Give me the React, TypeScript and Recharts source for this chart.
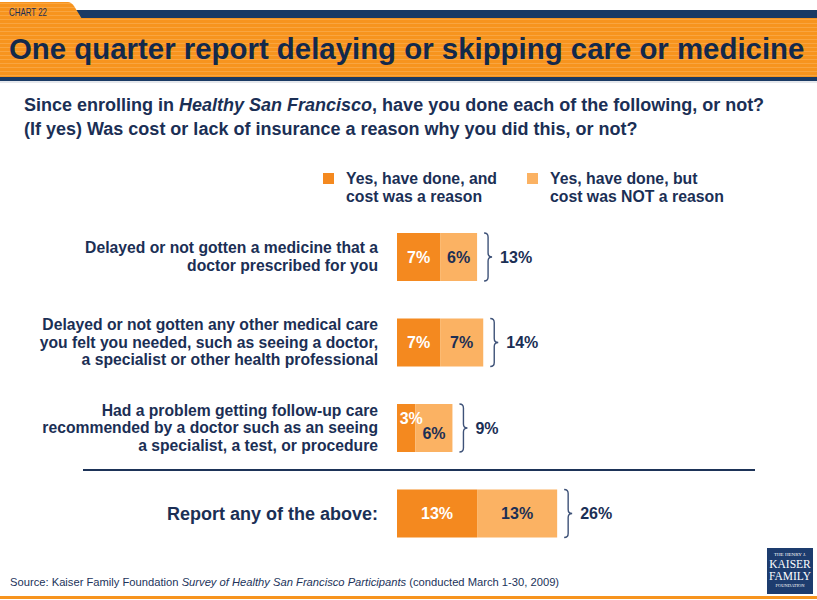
import { BarChart, Bar, XAxis, YAxis, LabelList } from 'recharts';

// survey rows, top to bottom
const categories = [
  'Delayed or not gotten a medicine that a\ndoctor prescribed for you',
  'Delayed or not gotten any other medical care\nyou felt you needed, such as seeing a doctor,\na specialist or other health professional',
  'Had a problem getting follow-up care\nrecommended by a doctor such as an seeing\na specialist, a test, or procedure',
  'Report any of the above:',
];
const costReason = [7, 7, 3, 13];
const notCostReason = [6, 7, 6, 13];
const totals = [13, 14, 9, 26];

const seriesNames = ['Yes, have done, and\ncost was a reason', 'Yes, have done, but\ncost was NOT a reason'];

const data = categories.map((name, i) => ({
  name,
  cost: costReason[i],
  notCost: notCostReason[i],
  total: totals[i],
}));

const NAVY = '#1B2F55';
const DARK_ORANGE = '#F4891F';
const LIGHT_ORANGE = '#FBB263';
const FONT = '"Liberation Sans", Arial, Helvetica, sans-serif';

const isSummary = (i: number) => i === categories.length - 1;

function CategoryTick(props: any) {
  const { x, y, payload, index } = props;
  const lines: string[] = String(payload.value).split('\n');
  const lh = 17.6;
  const big = isSummary(index);
  return (
    <text
      x={x - 19}
      y={y}
      textAnchor="end"
      fill={NAVY}
      fontFamily={FONT}
      fontWeight="bold"
      fontSize={big ? 18 : 15.7}
    >
      {lines.map((l, k) => (
        <tspan key={k} x={x - 19} dy={k === 0 ? -((lines.length - 1) / 2) * lh + (big ? 7 : 5.5) : lh}>
          {l}
        </tspan>
      ))}
    </text>
  );
}

function CostLabel(props: any) {
  const { x, y, width, height, value } = props;
  const small = value < 5;
  const cx = x + width / 2 + (small ? 5 : 0);
  const cy = y + height / 2 + (small ? -10 : 0);
  return (
    <text x={cx} y={cy} dy="0.36em" textAnchor="middle" fill="#FFFFFF" fontFamily={FONT} fontWeight="bold" fontSize={16}>
      {value}%
    </text>
  );
}

function NotCostLabel(props: any) {
  const { x, y, width, height, value, index } = props;
  const shift = costReason[index] < 5 ? 5 : 0;
  return (
    <text
      x={x + width / 2}
      y={y + height / 2 + shift}
      dy="0.36em"
      textAnchor="middle"
      fill={NAVY}
      fontFamily={FONT}
      fontWeight="bold"
      fontSize={16}
    >
      {value}%
    </text>
  );
}

function BraceLabel(props: any) {
  const { x, y, width, height, index } = props;
  const x0 = x + width + 7;
  const y0 = y;
  const y1 = y + height;
  const ym = y + height / 2;
  const d = `M${x0},${y0} Q${x0 + 4},${y0} ${x0 + 4},${y0 + 4} L${x0 + 4},${ym - 4} Q${x0 + 4},${ym} ${x0 + 8},${ym} Q${x0 + 4},${ym} ${x0 + 4},${ym + 4} L${x0 + 4},${y1 - 4} Q${x0 + 4},${y1} ${x0},${y1}`;
  return (
    <g>
      <path d={d} fill="none" stroke="#3E5278" strokeWidth={1.4} />
      <text x={x + width + 23} y={ym} dy="0.36em" fill={NAVY} fontFamily={FONT} fontWeight="bold" fontSize={16}>
        {totals[index]}%
      </text>
    </g>
  );
}

function Header() {
  return (
    <svg width={817} height={84} style={{ position: 'absolute', left: 0, top: 0 }}>
      <defs>
        <pattern id="stripes" width={4} height={4} patternUnits="userSpaceOnUse">
          <rect width={4} height={4} fill="#F7941E" />
          <rect y={3} width={4} height={1} fill="#F9A540" />
        </pattern>
      </defs>
      <path d="M72,10 L817,10 L817,19 L82,19 Z" fill="#1A3A64" />
      <path d="M0,2 L68,2 Q71,2 74,6 L82,19 L0,19 Z" fill="url(#stripes)" />
      <rect x={0} y={18} width={817} height={59} fill="url(#stripes)" />
      <rect x={0} y={77} width={817} height={4} fill="#1A3A64" />
      <rect x={0} y={81} width={817} height={2} fill="#E6E8EC" />
      <text x={9} y={16} fontFamily={FONT} fontSize={10.5} fill={NAVY} textLength={38} lengthAdjust="spacingAndGlyphs">
        CHART 22
      </text>
      <text x={9} y={59} fontFamily={FONT} fontSize={29.4} fontWeight="bold" fill="#13294B">
        One quarter report delaying or skipping care or medicine
      </text>
    </svg>
  );
}

function Legend() {
  const colors = [DARK_ORANGE, LIGHT_ORANGE];
  const lefts = [323, 527];
  return (
    <>
      {seriesNames.map((s, i) => (
        <div key={s} style={{ position: 'absolute', left: lefts[i], top: 170 }}>
          <div style={{ position: 'absolute', left: 0, top: 3, width: 11, height: 11, background: colors[i] }} />
          <div
            style={{
              position: 'absolute',
              left: 23,
              top: 0,
              whiteSpace: 'pre',
              fontFamily: FONT,
              fontWeight: 'bold',
              fontSize: 15.8,
              lineHeight: '18px',
              color: NAVY,
            }}
          >
            {s}
          </div>
        </div>
      ))}
    </>
  );
}

export default function App() {
  return (
    <div
      style={{
        position: 'absolute',
        left: 0,
        top: 0,
        width: 817,
        height: 600,
        overflow: 'hidden',
        background: '#FFFFFF',
        fontFamily: FONT,
      }}
    >
      <Header />
      <div
        style={{
          position: 'absolute',
          left: 24,
          top: 93,
          fontWeight: 'bold',
          fontSize: 18,
          lineHeight: '24px',
          color: NAVY,
          whiteSpace: 'nowrap',
        }}
      >
        Since enrolling in <i>Healthy San Francisco</i>, have you done each of the following, or not?
        <br />
        (If yes) Was cost or lack of insurance a reason why you did this, or not?
      </div>
      <Legend />
      <div style={{ position: 'absolute', left: 0, top: 0 }}>
        <BarChart
          width={817}
          height={600}
          layout="vertical"
          data={data}
          barSize={48}
          margin={{ top: 214, right: 112, bottom: 44, left: 0 }}
        >
          <XAxis type="number" domain={[0, 50]} hide />
          <YAxis
            type="category"
            dataKey="name"
            width={397}
            axisLine={false}
            tickLine={false}
            tickSize={0}
            tickMargin={0}
            interval={0}
            tick={<CategoryTick />}
          />
          <Bar dataKey="cost" stackId="a" fill={DARK_ORANGE} isAnimationActive={false}>
            <LabelList dataKey="cost" content={<CostLabel />} />
          </Bar>
          <Bar dataKey="notCost" stackId="a" fill={LIGHT_ORANGE} isAnimationActive={false}>
            <LabelList dataKey="notCost" content={<NotCostLabel />} />
            <LabelList dataKey="total" content={<BraceLabel />} />
          </Bar>
        </BarChart>
      </div>
      <div style={{ position: 'absolute', left: 83, top: 469, width: 672, height: 2, background: '#1D3358' }} />
      <div style={{ position: 'absolute', left: 10, top: 576, fontSize: 11.2, color: '#22335A', whiteSpace: 'nowrap' }}>
        Source: Kaiser Family Foundation <i>Survey of Healthy San Francisco Participants</i> (conducted March 1-30, 2009)
      </div>
      <div style={{ position: 'absolute', left: 0, top: 596, width: 817, height: 3, background: '#F7941E' }} />
      <div
        style={{
          position: 'absolute',
          left: 767,
          top: 548,
          width: 46,
          height: 46,
          background: '#1D3C6E',
          color: '#FFFFFF',
          fontFamily: '"Liberation Serif", "DejaVu Serif", serif',
          textAlign: 'center',
          lineHeight: 1,
        }}
      >
        <div style={{ fontSize: 5, marginTop: 4 }}>THE HENRY J.</div>
        <div style={{ fontSize: 11.5, marginTop: 2 }}>KAISER</div>
        <div style={{ fontSize: 11.5 }}>FAMILY</div>
        <div style={{ fontSize: 4.5, marginTop: 2 }}>FOUNDATION</div>
      </div>
    </div>
  );
}
